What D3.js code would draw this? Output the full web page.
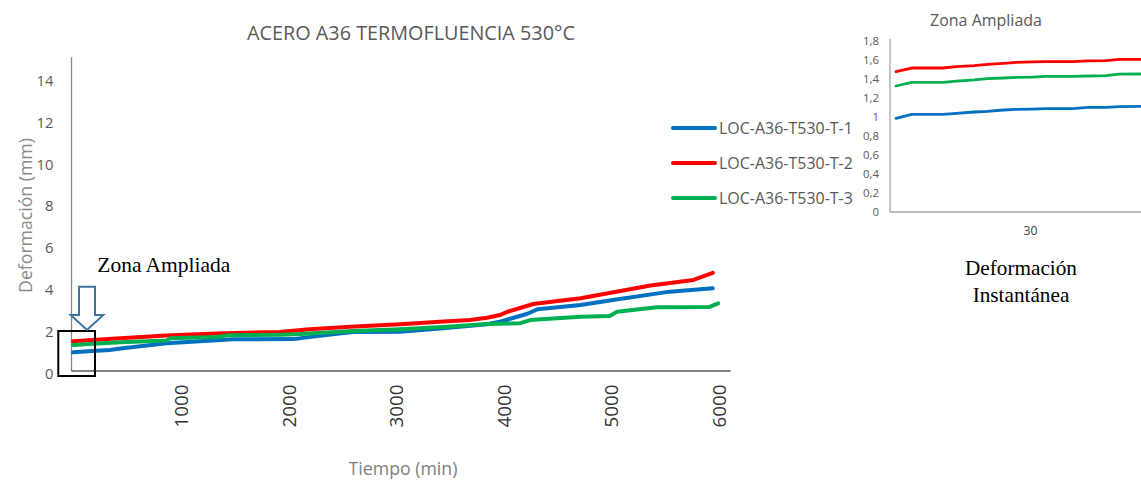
<!DOCTYPE html>
<html><head><meta charset="utf-8">
<script src="https://cdn.jsdelivr.net/npm/d3@7"></script>
<style>html,body{margin:0;padding:0;background:#fff;}svg{display:block;}</style>
</head><body>
<script>
// ---------- DATA ----------
const seriesNames = ["LOC-A36-T530-T-1", "LOC-A36-T530-T-2", "LOC-A36-T530-T-3"];
const seriesColors = ["#0070c0", "#ff0000", "#00b050"];

const blueTime = [0,180,340,460,870,1490,2050,2230,2600,3040,3440,3850,3970,4220,4320,4720,5020,5550,5950];
const blueDef  = [0.87,0.93,0.98,1.06,1.30,1.49,1.50,1.62,1.84,1.85,2.02,2.21,2.33,2.70,2.93,3.13,3.37,3.77,3.93];

const redTime = [0,180,440,870,1340,1920,2200,2580,3040,3410,3690,3850,3970,4040,4280,4720,5090,5370,5770,5950];
const redDef  = [1.40,1.46,1.54,1.67,1.77,1.84,1.97,2.09,2.21,2.33,2.41,2.52,2.65,2.81,3.18,3.45,3.80,4.06,4.33,4.67];

const greenTime = [0,180,440,870,900,1340,1430,1920,2110,2600,3040,3480,3850,4160,4250,4720,4990,5060,5430,5920,6000];
const greenDef  = [1.22,1.28,1.35,1.43,1.54,1.60,1.68,1.71,1.74,1.89,1.97,2.09,2.22,2.26,2.41,2.57,2.61,2.81,3.02,3.04,3.21];

const xTicks = [1000,2000,3000,4000,5000,6000];
const yTicks = [0,2,4,6,8,10,12,14];

// zoomed-in area (inset)
const insetTime  = [0,3.5,10.5,13.5,17.5,20.5,24,27,30.5,33.5,39.5,43,47,50,55];
const insetBlue  = [0.984,1.026,1.026,1.037,1.051,1.058,1.072,1.079,1.082,1.086,1.086,1.100,1.100,1.107,1.110];
const insetRed   = [1.474,1.513,1.513,1.527,1.538,1.552,1.562,1.573,1.577,1.580,1.580,1.587,1.590,1.604,1.604];
const insetGreen = [1.324,1.362,1.362,1.376,1.388,1.401,1.408,1.415,1.418,1.425,1.425,1.429,1.432,1.448,1.450];
const insetYTicks = [0,0.2,0.4,0.6,0.8,1,1.2,1.4,1.6,1.8];
const insetXTicks = [30];

const titleText = "ACERO A36 TERMOFLUENCIA 530°C";
const xTitle = "Tiempo (min)";
const yTitle = "Deformación (mm)";
const insetTitle = "Zona Ampliada";
const zoneLabel = "Zona Ampliada";
const noteLines = ["Deformación", "Instantánea"];

// ---------- SETUP ----------
const W = 1141, H = 480;
const svg = d3.select("body").append("svg").attr("width", W).attr("height", H);
const SANS = "'Open Sans', 'DejaVu Sans', sans-serif";
const SERIF = "'Liberation Serif', 'DejaVu Serif', serif";

function fitSize(text, family, targetW, weight) {
  const t = svg.append("text").attr("font-family", family).attr("font-size", 100)
    .attr("font-weight", weight || "normal").text(text);
  const w = t.node().getComputedTextLength();
  t.remove();
  return 100 * targetW / w;
}

// ---------- MAIN CHART ----------
const x = d3.scaleLinear().domain([-20, 6110]).range([71, 730]);
const y = d3.scaleLinear().domain([0, 15]).range([370.5, 56.7]);

const line = d3.line().x(d => x(d[0])).y(d => y(d[1]));
const mainSeries = [
  {t: blueTime, v: blueDef, c: seriesColors[0]},
  {t: redTime, v: redDef, c: seriesColors[1]},
  {t: greenTime, v: greenDef, c: seriesColors[2]}
];

// axes
const yAxis = d3.axisLeft(y).tickValues(yTicks).tickSize(0).tickPadding(17.5);
const gy = svg.append("g").attr("transform", `translate(71,0)`).call(yAxis);
gy.select(".domain").attr("stroke", "#868686").attr("stroke-width", 1.3);
const yFs = fitSize("14", SANS, 17);
gy.selectAll(".tick text").attr("font-family", SANS).attr("font-size", yFs)
  .attr("fill", "#595959").attr("dy", "0.32em").attr("y", 3);

const xAxis = d3.axisBottom(x).tickValues(xTicks).tickSize(0).tickFormat(d3.format("d"));
const gx = svg.append("g").attr("transform", `translate(0,${y(0)})`).call(xAxis);
gx.select(".domain").attr("stroke", "#595959").attr("stroke-width", 1.5);
const xFs = fitSize("1000", SANS, 43);
gx.selectAll(".tick text").attr("font-family", SANS).attr("font-size", xFs)
  .attr("fill", "#333").attr("text-anchor", "end").attr("dominant-baseline", "central")
  .attr("dy", null).attr("y", 0)
  .attr("transform", "translate(0,14) rotate(-90)");

// lines
mainSeries.forEach(s => {
  svg.append("path").datum(s.t.map((t, i) => [t, s.v[i]]))
    .attr("d", line).attr("fill", "none").attr("stroke", s.c)
    .attr("stroke-width", 4).attr("stroke-linejoin", "round").attr("stroke-linecap", "round");
});

// title
svg.append("text").attr("x", 411).attr("y", 32).attr("text-anchor", "middle")
  .attr("dominant-baseline", "central").attr("font-family", SANS)
  .attr("font-size", fitSize(titleText, SANS, 328)).attr("fill", "#595959").text(titleText);

// axis titles
svg.append("text").attr("transform", "translate(25,215.5) rotate(-90)")
  .attr("text-anchor", "middle").attr("dominant-baseline", "central").attr("font-family", SANS)
  .attr("font-size", fitSize(yTitle, SANS, 155)).attr("fill", "#8a8a8a").text(yTitle);
svg.append("text").attr("x", 403).attr("y", 468).attr("text-anchor", "middle")
  .attr("dominant-baseline", "central").attr("font-family", SANS)
  .attr("font-size", fitSize(xTitle, SANS, 109)).attr("fill", "#7f7f7f").text(xTitle);

// legend
const legFs = fitSize("LOC-A36-T530-T-3", SANS, 134);
const legY = [128, 163, 198];
seriesNames.forEach((n, i) => {
  const g = svg.append("g");
  g.append("line").attr("x1", 673).attr("x2", 715).attr("y1", legY[i]).attr("y2", legY[i])
    .attr("stroke", seriesColors[i]).attr("stroke-width", 4).attr("stroke-linecap", "round");
  g.append("text").attr("x", 719).attr("y", legY[i]).attr("dominant-baseline", "central")
    .attr("font-family", SANS).attr("font-size", legFs).attr("fill", "#595959").text(n);
});

// zone box and arrow
svg.append("rect").attr("x", 58.3).attr("y", 331).attr("width", 36.7).attr("height", 45)
  .attr("fill", "none").attr("stroke", "#000").attr("stroke-width", 2);
svg.append("path")
  .attr("d", "M79,286.7 L95,286.7 L95,315 L103.3,315 L87,330 L70.7,315 L79,315 Z")
  .attr("fill", "#fff").attr("stroke", "#41719c").attr("stroke-width", 2).attr("stroke-linejoin", "miter");
svg.append("text").attr("x", 97.3).attr("y", 265).attr("dominant-baseline", "central")
  .attr("font-family", SERIF).attr("font-size", fitSize(zoneLabel, SERIF, 133)).attr("fill", "#000").text(zoneLabel);

// ---------- INSET ----------
const ix = d3.scaleLinear().domain([0, 54.85]).range([896, 1141]);
const iy = d3.scaleLinear().domain([0, 1.8]).range([212, 40.7]);
const loc = d3.formatLocale({decimal: ",", thousands: ".", grouping: [3], currency: ["", ""]});
const fmt = loc.format(".1~f");

svg.append("defs").append("clipPath").attr("id", "insetClip")
  .append("rect").attr("x", 890).attr("y", 30).attr("width", 251).attr("height", 190);

const giy = svg.append("g").attr("transform", "translate(890,0)")
  .call(d3.axisLeft(iy).tickValues(insetYTicks).tickSize(0).tickPadding(11).tickFormat(fmt));
giy.select(".domain").remove();
giy.append("line").attr("x1", 0).attr("x2", 0).attr("y1", 39).attr("y2", 212)
  .attr("stroke", "#a6a6a6").attr("stroke-width", 1.3);
const iyFs = fitSize("1,8", SANS, 16);
giy.selectAll(".tick text").attr("font-family", SANS).attr("font-size", iyFs).attr("fill", "#595959");

const gix = svg.append("g").attr("transform", "translate(0,212)")
  .call(d3.axisBottom(ix).tickValues(insetXTicks).tickSize(0).tickPadding(14));
gix.select(".domain").remove();
gix.append("line").attr("x1", 890).attr("x2", 1141).attr("y1", 0).attr("y2", 0)
  .attr("stroke", "#a6a6a6").attr("stroke-width", 1.3);
gix.selectAll(".tick text").attr("font-family", SANS).attr("font-size", fitSize("30", SANS, 14))
  .attr("fill", "#404040");

const iline = d3.line().x(d => ix(d[0])).y(d => iy(d[1]));
const insetSeries = [insetBlue, insetRed, insetGreen];
insetSeries.forEach((vals, i) => {
  svg.append("path").datum(insetTime.map((t, k) => [t, vals[k]]))
    .attr("clip-path", "url(#insetClip)")
    .attr("d", iline).attr("fill", "none").attr("stroke", seriesColors[i])
    .attr("stroke-width", 2.8).attr("stroke-linejoin", "round").attr("stroke-linecap", "round");
});

svg.append("text").attr("x", 986).attr("y", 20).attr("text-anchor", "middle")
  .attr("dominant-baseline", "central").attr("font-family", SANS)
  .attr("font-size", fitSize(insetTitle, SANS, 112)).attr("fill", "#595959").text(insetTitle);

const noteFs = fitSize(noteLines[0], SERIF, 112);
noteLines.forEach((s, i) => {
  svg.append("text").attr("x", 1021).attr("y", 268 + i * 27).attr("text-anchor", "middle")
    .attr("dominant-baseline", "central").attr("font-family", SERIF)
    .attr("font-size", noteFs).attr("fill", "#000").text(s);
});
</script>
</body></html>
